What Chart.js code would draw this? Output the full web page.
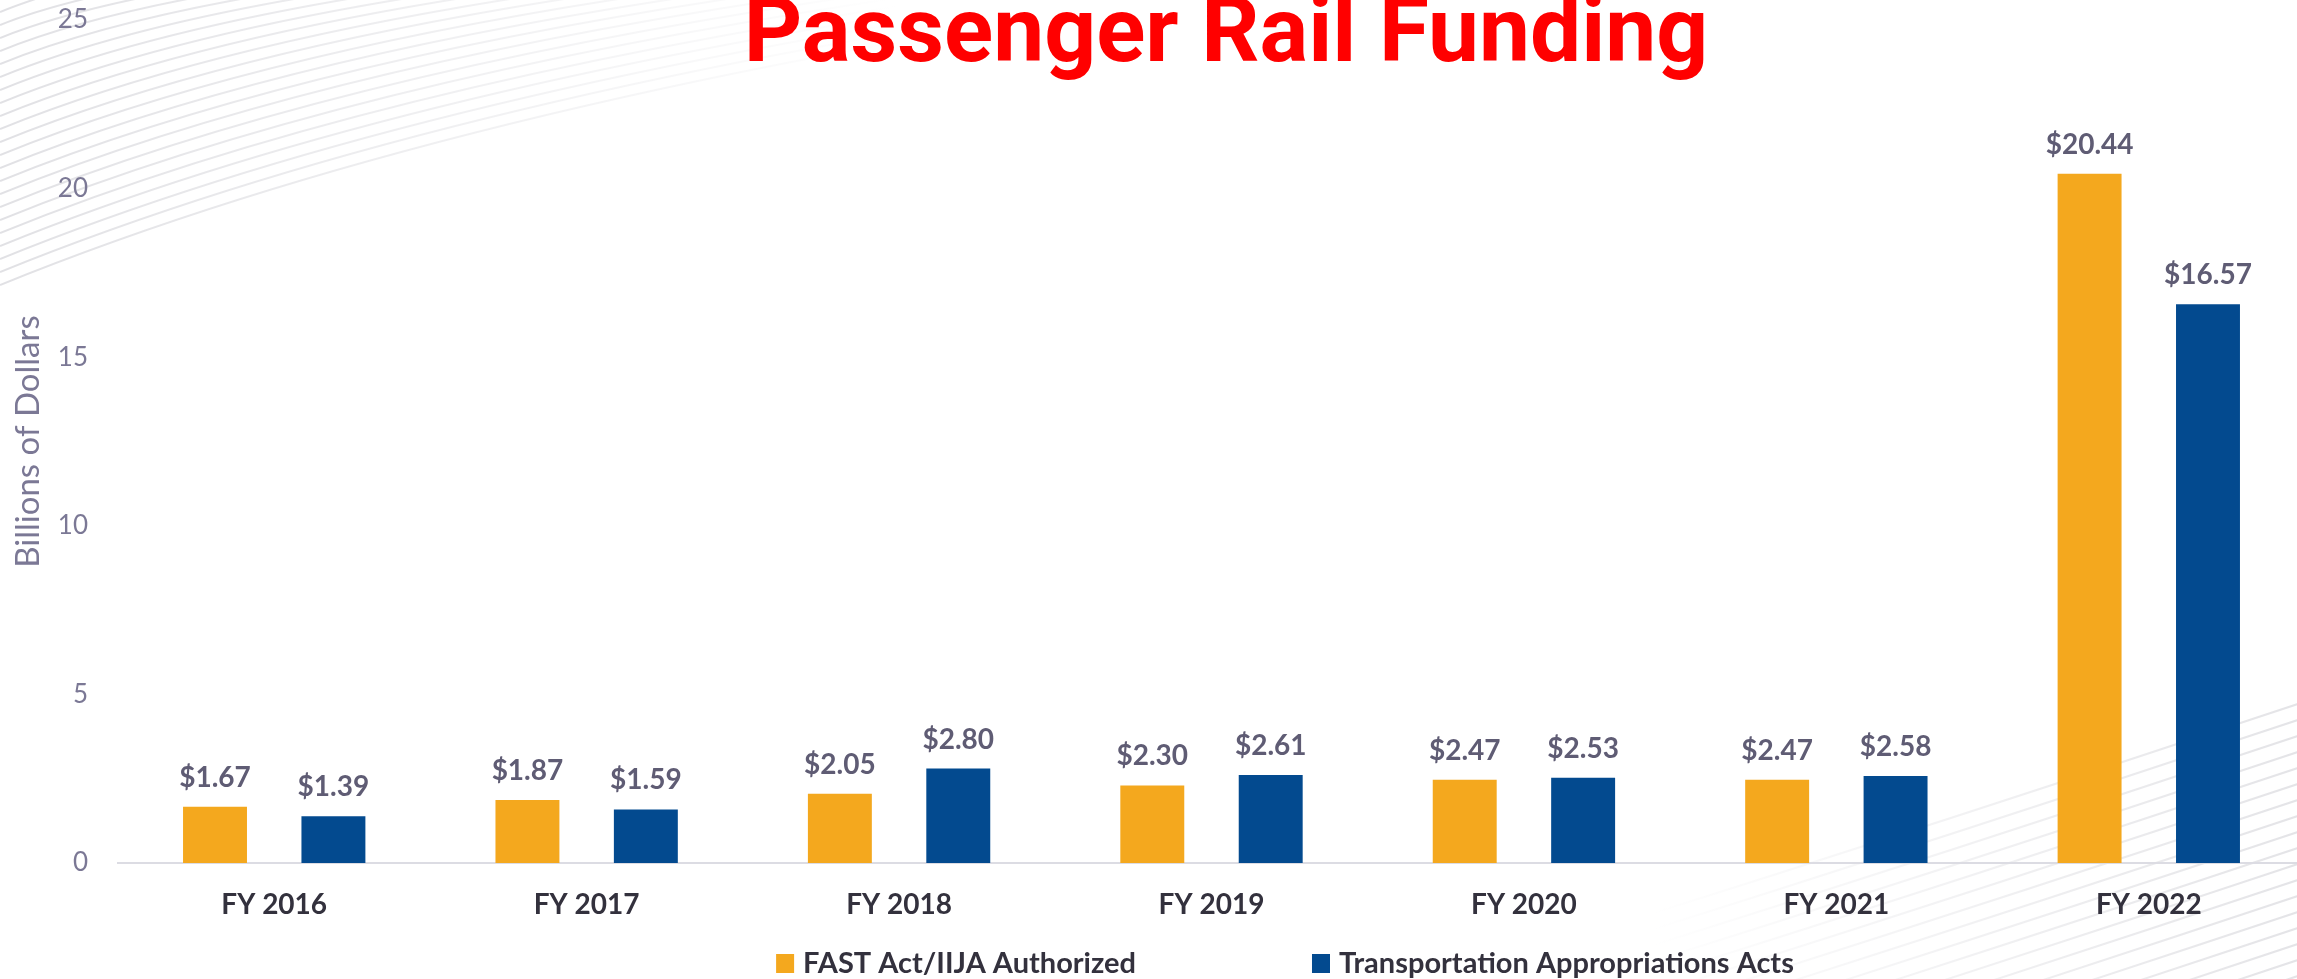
<!DOCTYPE html>
<html>
<head>
<meta charset="utf-8">
<title>Passenger Rail Funding</title>
<script src="https://cdn.jsdelivr.net/npm/chart.js@4.4.1/dist/chart.umd.min.js"></script>
<style>
  html, body { margin: 0; padding: 0; background: #fff; overflow: hidden; }
  #wrap { position: relative; width: 2297px; height: 979px; overflow: hidden; }
  #chart { position: absolute; left: 0; top: 0; }
  #title {
    position: absolute; left: 0; top: -15px; width: 2452px;
    text-align: center; white-space: nowrap;
    font-family: Roboto, "Liberation Sans", sans-serif; font-weight: 700;
    font-size: 91px; line-height: 91px; color: #ff0000;
  }
</style>
</head>
<body>
<div id="wrap">
  <canvas id="chart" width="2305" height="979"></canvas>
  <div id="title">Passenger Rail Funding</div>
</div>
<script>
// ---- data ----
const years = ["FY 2016", "FY 2017", "FY 2018", "FY 2019", "FY 2020", "FY 2021", "FY 2022"];
const authorized = [1.67, 1.87, 2.05, 2.30, 2.47, 2.47, 20.44];
const appropriations = [1.39, 1.59, 2.80, 2.61, 2.53, 2.58, 16.57];
const seriesNames = ["FAST Act/IIJA Authorized", "Transportation Appropriations Acts"];
const yTicks = [0, 5, 10, 15, 20, 25];

// ---- look ----
const FONT = 'Lato, "Open Sans", sans-serif';
const ORANGE = "#f4a81e";
const BLUE = "#034a8f";
const TICK_COLOR = "#7b7895";
const LABEL_DARK = "#33313d";
const VALUE_COLOR = "#5f5c74";

// faint swoosh lines in the corners
const backdrop = {
  id: "backdrop",
  beforeDraw(chart) {
    const ctx = chart.ctx;
    ctx.save();
    ctx.fillStyle = "#fff";
    ctx.fillRect(0, 0, chart.width, chart.height);
    ctx.lineWidth = 2;
    let g = ctx.createLinearGradient(0, 0, 900, 0);
    g.addColorStop(0, "rgba(195,195,202,0.5)");
    g.addColorStop(1, "rgba(195,195,202,0)");
    ctx.strokeStyle = g;
    for (let i = 0; i < 22; i++) {
      const y0 = 12 + i * 13;
      ctx.beginPath();
      ctx.moveTo(0, y0);
      ctx.quadraticCurveTo(y0 * 1.6, y0 * 0.35, y0 * 4.2, -6);
      ctx.stroke();
    }
    g = ctx.createLinearGradient(2297, 0, 1650, 0);
    g.addColorStop(0, "rgba(195,195,202,0.45)");
    g.addColorStop(1, "rgba(195,195,202,0)");
    ctx.strokeStyle = g;
    for (let i = 0; i < 20; i++) {
      const y1 = 700 + i * 16;
      ctx.beginPath();
      ctx.moveTo(1600, y1 + 230);
      ctx.quadraticCurveTo(1950, y1 + 120, 2310, y1);
      ctx.stroke();
    }
    ctx.restore();
  }
};

// $ labels above bars
const valueLabels = {
  id: "valueLabels",
  afterDatasetsDraw(chart) {
    const ctx = chart.ctx;
    ctx.save();
    ctx.font = "bold 28px " + FONT;
    ctx.fillStyle = VALUE_COLOR;
    ctx.textAlign = "center";
    ctx.textBaseline = "alphabetic";
    chart.data.datasets.forEach((ds, di) => {
      chart.getDatasetMeta(di).data.forEach((bar, i) => {
        ctx.fillText("$" + ds.data[i].toFixed(2), bar.x, bar.y - 20);
      });
    });
    ctx.restore();
  }
};

// legend row at the bottom
const bottomLegend = {
  id: "bottomLegend",
  afterDraw(chart) {
    const ctx = chart.ctx;
    const box = 18, boxGap = 9, itemGap = 176, centerX = 1285, midY = 963;
    ctx.save();
    ctx.font = "bold 29px " + FONT;
    ctx.textBaseline = "middle";
    ctx.textAlign = "left";
    const items = chart.data.datasets.map(ds => ({
      text: ds.label, color: ds.backgroundColor, w: ctx.measureText(ds.label).width
    }));
    const total = items.reduce((s, it) => s + box + boxGap + it.w, 0) + itemGap * (items.length - 1);
    let x = centerX - total / 2;
    items.forEach(it => {
      ctx.fillStyle = it.color;
      ctx.fillRect(x, midY - box / 2, box, box + 1);
      ctx.fillStyle = LABEL_DARK;
      ctx.fillText(it.text, x + box + boxGap, midY + 1);
      x += box + boxGap + it.w + itemGap;
    });
    ctx.restore();
  }
};

function draw() {
  const ctx = document.getElementById("chart").getContext("2d");
  new Chart(ctx, {
    type: "bar",
    data: {
      labels: years,
      datasets: [
        { label: seriesNames[0], data: authorized, backgroundColor: ORANGE },
        { label: seriesNames[1], data: appropriations, backgroundColor: BLUE }
      ]
    },
    options: {
      responsive: false,
      animation: false,
      layout: { padding: { left: 0, right: 0, top: 20, bottom: 0 } },
      datasets: { bar: { categoryPercentage: 0.758, barPercentage: 0.54 } },
      plugins: {
        legend: { display: false },
        tooltip: { enabled: false }
      },
      scales: {
        x: {
          grid: { display: false, drawTicks: false },
          border: { display: true, color: "#dcdce3", width: 2 },
          ticks: { font: { family: FONT, size: 28, weight: "bold" }, color: LABEL_DARK, padding: 25, maxRotation: 0 },
          afterFit: s => { s.height = 116; }
        },
        y: {
          min: 0, max: 25,
          afterBuildTicks: s => { s.ticks = yTicks.map(v => ({ value: v })); },
          grid: { display: false, drawTicks: false },
          border: { display: false },
          ticks: { font: { family: FONT, size: 26 }, color: TICK_COLOR, padding: 30 },
          title: {
            display: true, text: "Billions of Dollars", color: TICK_COLOR,
            font: { family: FONT, size: 33 }, padding: { top: 9, bottom: 0 }
          },
          afterFit: s => { s.width = 118; s.paddingTop = 0; s.paddingBottom = 0; }
        }
      }
    },
    plugins: [backdrop, valueLabels, bottomLegend]
  });
}

Promise.all([
  document.fonts.load("26px Lato"),
  document.fonts.load("bold 28px Lato"),
  document.fonts.load("bold 91px Roboto")
]).catch(() => {}).then(draw);
</script>
</body>
</html>
